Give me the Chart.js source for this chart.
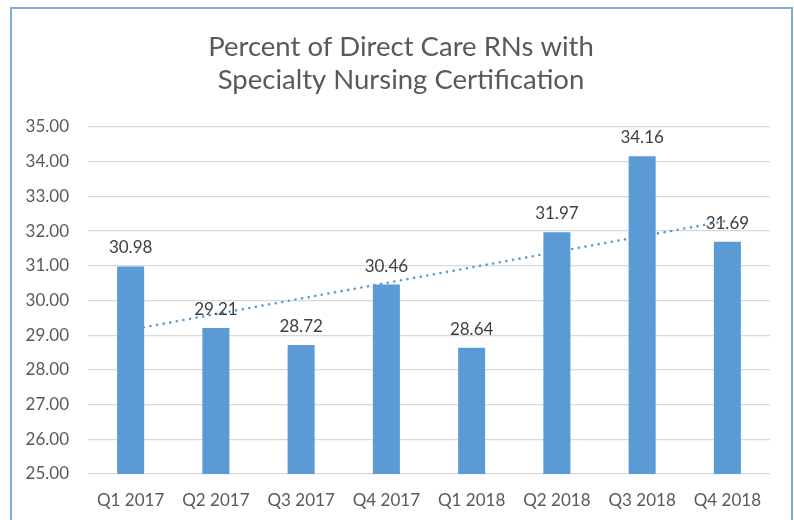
<!DOCTYPE html>
<html>
<head>
<meta charset="utf-8">
<script src="https://cdn.jsdelivr.net/npm/chart.js@4.4.1/dist/chart.umd.min.js"></script>
<style>
  html, body { margin: 0; padding: 0; background: #fff; }
  #wrap { position: relative; width: 794px; height: 520px; }
</style>
</head>
<body>
<div id="wrap"><canvas id="barChart" width="794" height="520"></canvas></div>
<script>
// chart data
var quarters = ["Q1 2017", "Q2 2017", "Q3 2017", "Q4 2017", "Q1 2018", "Q2 2018", "Q3 2018", "Q4 2018"];
var certPct = [30.98, 29.21, 28.72, 30.46, 28.64, 31.97, 34.16, 31.69];
// linear trendline at its two ends
var trendPct = [29.16, null, null, null, null, null, null, 32.30];
var yTicks = [25, 26, 27, 28, 29, 30, 31, 32, 33, 34, 35];

var barBlue = '#5B9BD5';
var grey = '#595959';

// outer frame like the Excel chart border
var framePlugin = {
  id: 'frame',
  afterLayout: function (chart) {
    // title is centred a bit right of the canvas centre, like the original
    if (chart.titleBlock) chart.titleBlock.left = 32;
  },
  beforeDraw: function (chart) {
    var ctx = chart.ctx;
    ctx.save();
    ctx.fillStyle = '#fff';
    ctx.fillRect(0, 0, chart.width, chart.height);
    ctx.strokeStyle = '#7fadde';
    ctx.lineWidth = 2;
    ctx.strokeRect(11, 8, 781, 530);
    ctx.restore();
  }
};

// value labels over each bar
var valueLabels = {
  id: 'valueLabels',
  afterDatasetsDraw: function (chart) {
    var ctx = chart.ctx;
    var meta = chart.getDatasetMeta(0);
    ctx.save();
    ctx.font = '17px Lato';
    ctx.fillStyle = '#404040';
    ctx.textAlign = 'center';
    ctx.textBaseline = 'bottom';
    meta.data.forEach(function (bar, i) {
      ctx.fillText(certPct[i].toFixed(2), bar.x, bar.y - 10);
    });
    ctx.restore();
  }
};

var ctx = document.getElementById('barChart');
var chart = new Chart(ctx, {
  type: 'bar',
  data: {
    labels: quarters,
    datasets: [{
        type: 'bar',
        label: 'Percent',
        data: certPct,
        backgroundColor: barBlue,
        barPercentage: 0.317,
        categoryPercentage: 1,
        order: 1
      },
      {
        type: 'line',
        label: 'Trend',
        data: trendPct,
        spanGaps: true,
        borderColor: barBlue,
        borderWidth: 2.6,
        borderDash: [0.1, 6.6],
        borderCapStyle: 'round',
        pointRadius: 0,
        fill: false,
        order: 2
      }
    ]
  },
  options: {
    responsive: false,
    animation: false,
    layout: { padding: { left: 0, right: 24, top: 0, bottom: 0 } },
    plugins: {
      legend: { display: false },
      tooltip: { enabled: false },
      title: {
        display: true,
        text: ['Percent of Direct Care RNs with', 'Specialty Nursing Certification'],
        color: grey,
        font: { family: 'Lato', size: 27.5, weight: 'normal', lineHeight: 1.2 },
        padding: { top: 31, bottom: 30 }
      }
    },
    scales: {
      x: {
        grid: { display: false },
        border: { display: false },
        ticks: { color: grey, font: { family: 'Lato', size: 17 }, padding: 8, maxRotation: 0 },
        afterFit: function (scale) { scale.height = 46; }
      },
      y: {
        min: yTicks[0],
        max: yTicks[yTicks.length - 1],
        afterBuildTicks: function (scale) {
          scale.ticks = yTicks.map(function (v) { return { value: v }; });
        },
        grid: { color: '#d9d9d9', lineWidth: 1.3, drawTicks: false },
        border: { display: false },
        ticks: {
          color: grey,
          font: { family: 'Lato', size: 17 },
          padding: 19,
          callback: function (v) { return v.toFixed(2); }
        },
        afterFit: function (scale) { scale.width = 88; }
      }
    }
  },
  plugins: [framePlugin, valueLabels]
});
</script>
</body>
</html>
